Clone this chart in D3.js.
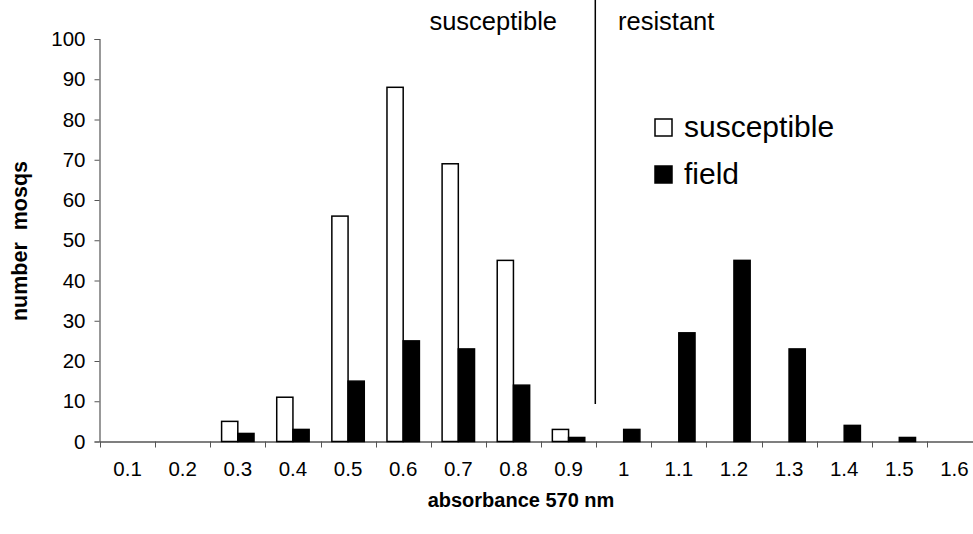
<!DOCTYPE html>
<html>
<head>
<meta charset="utf-8">
<script src="https://cdn.jsdelivr.net/npm/d3@7"></script>
<style>
  body { margin: 0; background: #fff; }
  svg { display: block; font-family: "Liberation Sans", Arial, sans-serif; }
</style>
</head>
<body>
<div id="vis-container"></div>
<script>
// absorbance classes and mosquito counts
let categories = ["0.1", "0.2", "0.3", "0.4", "0.5", "0.6", "0.7", "0.8",
                  "0.9", "1", "1.1", "1.2", "1.3", "1.4", "1.5", "1.6"];
let susceptible = [0, 0, 5, 11, 56, 88, 69, 45, 3, 0, 0, 0, 0, 0, 0, 0];
let field = [0, 0, 2, 3, 15, 25, 23, 14, 1, 3, 27, 45, 23, 4, 1, 0];
let yTicks = [0, 10, 20, 30, 40, 50, 60, 70, 80, 90, 100];
let seriesNames = ["susceptible", "field"];
let seriesFill = ["#fff", "#000"];

let width = 973;
let height = 534;

let svg = d3.select("#vis-container")
  .append("svg")
  .attr("width", width)
  .attr("height", height);

let x = d3.scaleBand()
  .domain(categories)
  .range([100, 982])
  .padding(0);

let xSub = d3.scaleBand()
  .domain(seriesNames)
  .range([0, x.bandwidth()])
  .paddingInner(0)
  .paddingOuter(0.7);

let y = d3.scaleLinear()
  .domain([0, 100])
  .range([441.5, 39]);

// y axis
let yAxis = svg.append("g")
  .attr("transform", "translate(99.5,0)")
  .call(d3.axisLeft(y).tickValues(yTicks).tickSize(5).tickPadding(9));
yAxis.select(".domain").attr("stroke", "#555").attr("stroke-width", 1.2);
yAxis.selectAll(".tick line").attr("stroke", "#555");
yAxis.selectAll("text")
  .attr("font-size", 20.5)
  .attr("font-family", "Liberation Sans, Arial, sans-serif")
  .attr("fill", "#000");

// x axis: ticks on the category boundaries
let xAxis = svg.append("g")
  .attr("transform", "translate(0,441.5)")
  .call(d3.axisBottom(x).tickSize(0).tickPadding(20));
xAxis.select(".domain").attr("stroke", "#000").attr("stroke-width", 1.2);
xAxis.selectAll("text")
  .attr("font-size", 20.5)
  .attr("font-family", "Liberation Sans, Arial, sans-serif")
  .attr("fill", "#000");

xAxis.selectAll(".sep")
  .data(categories)
  .enter()
  .append("line")
  .attr("class", "sep")
  .attr("x1", d => Math.round(x(d)) + 0.5)
  .attr("x2", d => Math.round(x(d)) + 0.5)
  .attr("y1", 0)
  .attr("y2", 6)
  .attr("stroke", "#555");

// bars
let seriesData = [susceptible, field];
seriesNames.forEach(function (name, i) {
  svg.append("g")
    .selectAll("rect")
    .data(categories.map((c, j) => ({ cat: c, value: seriesData[i][j] })).filter(d => d.value > 0))
    .enter()
    .append("rect")
    .attr("x", d => x(d.cat) + xSub(name))
    .attr("y", d => y(d.value))
    .attr("width", xSub.bandwidth())
    .attr("height", d => y(0) - y(d.value))
    .attr("fill", seriesFill[i])
    .attr("stroke", "#000")
    .attr("stroke-width", 1.5);
});

// susceptible / resistant divider
svg.append("line")
  .attr("x1", 595.3)
  .attr("x2", 595.3)
  .attr("y1", 0)
  .attr("y2", 404)
  .attr("stroke", "#000")
  .attr("stroke-width", 1.5);

svg.append("text")
  .attr("x", 557)
  .attr("y", 30)
  .attr("text-anchor", "end")
  .attr("font-size", 25.5)
  .text("susceptible");

svg.append("text")
  .attr("x", 618)
  .attr("y", 30)
  .attr("font-size", 25.5)
  .text("resistant");

// legend
let legend = svg.append("g");
seriesNames.forEach(function (name, i) {
  legend.append("rect")
    .attr("x", 655)
    .attr("y", 119 + i * 47)
    .attr("width", 17)
    .attr("height", 17)
    .attr("fill", seriesFill[i])
    .attr("stroke", "#000")
    .attr("stroke-width", 1.5);
  legend.append("text")
    .attr("x", 684)
    .attr("y", 137 + i * 47)
    .attr("font-size", 30)
    .text(name);
});

// axis titles
svg.append("text")
  .attr("x", 521)
  .attr("y", 507)
  .attr("text-anchor", "middle")
  .attr("font-size", 20)
  .attr("font-weight", "bold")
  .text("absorbance 570 nm");

svg.append("text")
  .attr("transform", "translate(27,241) rotate(-90)")
  .attr("text-anchor", "middle")
  .attr("font-size", 21.5)
  .attr("font-weight", "bold")
  .style("white-space", "pre")
  .text("number  mosqs");
</script>
</body>
</html>
